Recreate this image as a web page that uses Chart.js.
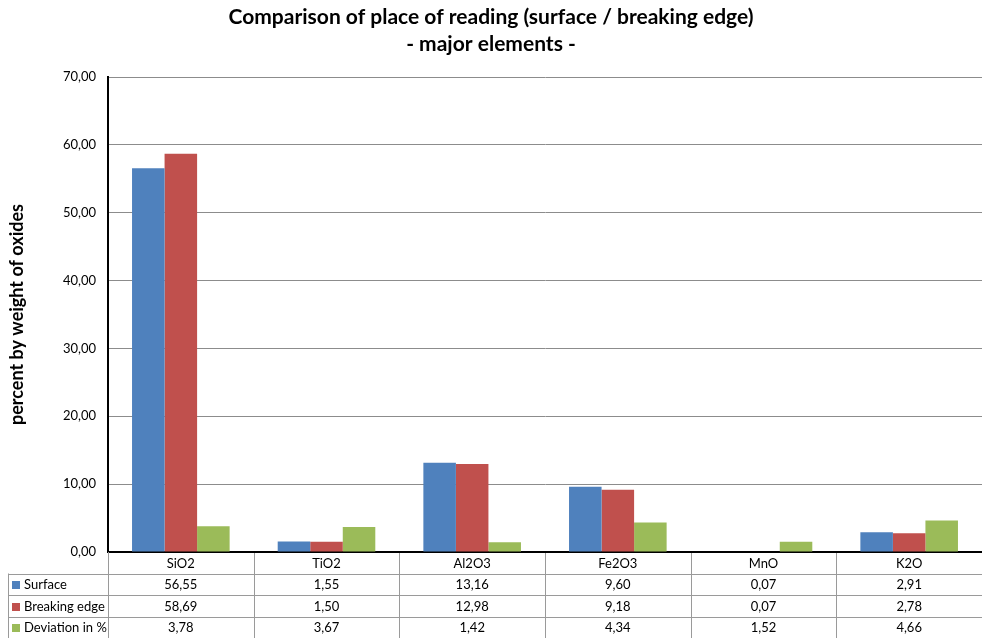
<!DOCTYPE html>
<html>
<head>
<meta charset="utf-8">
<script src="https://cdn.jsdelivr.net/npm/chart.js@4/dist/chart.umd.min.js"></script>
<style>
  html, body { margin: 0; padding: 0; background: #fff; }
  #wrap { width: 982px; height: 638px; position: relative; }
</style>
</head>
<body>
<div id="wrap"><canvas id="c"></canvas></div>
<script>
// Oxides measured and the three series shown as bars and in the data table
const categories = ['SiO2', 'TiO2', 'Al2O3', 'Fe2O3', 'MnO', 'K2O'];
const surface = [56.55, 1.55, 13.16, 9.60, 0.07, 2.91];
const breakingEdge = [58.69, 1.50, 12.98, 9.18, 0.07, 2.78];
const deviation = [3.78, 3.67, 1.42, 4.34, 1.52, 4.66];
const seriesNames = ['Surface', 'Breaking edge', 'Deviation in %'];
const seriesColors = ['#4F81BD', '#C0504D', '#9BBB59'];
const yMin = 0, yMax = 70, yStep = 10;

const FONT = 'Lato, "Open Sans", "Liberation Sans", sans-serif';
const fmt = v => Number(v).toFixed(2).replace('.', ',');

// Data table drawn under the plot: one header row of oxide names and one row per series
const dataTablePlugin = {
  id: 'dataTable',
  afterDraw(chart) {
    const ctx = chart.ctx;
    const xs = chart.scales.x;
    const area = chart.chartArea;
    const rowH = 21.5;
    const top = area.bottom;
    const legendLeft = 8;
    const n = categories.length;
    const half = (xs.getPixelForValue(1) - xs.getPixelForValue(0)) / 2;
    const edges = [];
    for (let i = 0; i < n; i++) edges.push(xs.getPixelForValue(i) - half);
    edges.push(xs.getPixelForValue(n - 1) + half);
    const rows = [surface, breakingEdge, deviation];
    const bottom = top + rowH * (rows.length + 1);

    ctx.save();
    ctx.strokeStyle = '#9a9a9a';
    ctx.lineWidth = 1;
    // vertical cell separators
    edges.forEach((x, i) => {
      const xx = Math.round(x) + 0.5;
      ctx.beginPath();
      ctx.moveTo(xx, top + (i === 0 ? 0 : 1));
      ctx.lineTo(xx, bottom);
      ctx.stroke();
    });
    // left edge of the legend column
    ctx.beginPath();
    ctx.moveTo(legendLeft + 0.5, top + rowH);
    ctx.lineTo(legendLeft + 0.5, bottom);
    ctx.stroke();
    // horizontal row lines
    for (let r = 1; r <= rows.length; r++) {
      const y = Math.round(top + rowH * r) + 0.5;
      ctx.beginPath();
      ctx.moveTo(legendLeft, y);
      ctx.lineTo(edges[edges.length - 1], y);
      ctx.stroke();
    }

    ctx.fillStyle = '#000';
    ctx.font = '13px ' + FONT;
    ctx.textAlign = 'center';
    ctx.textBaseline = 'middle';
    categories.forEach((c, i) => {
      ctx.fillText(c, xs.getPixelForValue(i), top + rowH * 0.5 + 1);
    });
    rows.forEach((vals, r) => {
      const cy = top + rowH * (r + 1.5) + 1;
      vals.forEach((v, i) => {
        ctx.fillText(fmt(v), xs.getPixelForValue(i), cy);
      });
    });
    // legend keys
    ctx.textAlign = 'left';
    seriesNames.forEach((name, r) => {
      const cy = top + rowH * (r + 1.5) + 1;
      ctx.fillStyle = seriesColors[r];
      ctx.fillRect(12, Math.round(cy - 4), 8, 8);
      ctx.fillStyle = '#000';
      ctx.fillText(name, 24, cy);
    });
    ctx.restore();
  }
};

new Chart(document.getElementById('c'), {
  type: 'bar',
  data: {
    labels: categories,
    datasets: [
      { label: seriesNames[0], data: surface, backgroundColor: seriesColors[0] },
      { label: seriesNames[1], data: breakingEdge, backgroundColor: seriesColors[1] },
      { label: seriesNames[2], data: deviation, backgroundColor: seriesColors[2] }
    ]
  },
  options: {
    responsive: true,
    maintainAspectRatio: false,
    animation: false,
    layout: { padding: { top: 0, right: 0, bottom: 86, left: 0 } },
    datasets: { bar: { categoryPercentage: 0.67, barPercentage: 1.0 } },
    plugins: {
      legend: { display: false },
      tooltip: { enabled: false },
      title: {
        display: true,
        text: ['Comparison of place of reading (surface / breaking edge)', '- major elements -'],
        color: '#000',
        font: { family: FONT, size: 21, weight: 'bold', lineHeight: 1.286 },
        padding: { top: 4, bottom: 19 }
      }
    },
    scales: {
      x: {
        ticks: { display: false },
        grid: { display: false, drawTicks: false },
        border: { display: true, color: '#000', width: 2 }
      },
      y: {
        min: yMin,
        max: yMax,
        afterFit(scale) { scale.width = 108; },
        ticks: {
          stepSize: yStep,
          color: '#000',
          padding: 12,
          font: { family: FONT, size: 13 },
          callback: v => fmt(v)
        },
        grid: { color: '#8c8c8c', lineWidth: 1, drawTicks: false },
        border: { display: true, color: '#000', width: 2 },
        title: {
          display: true,
          text: 'percent by weight of oxides',
          color: '#000',
          font: { family: FONT, size: 18, weight: 'bold' },
          padding: { top: 6, bottom: 0 }
        }
      }
    }
  },
  plugins: [dataTablePlugin]
});
</script>
</body>
</html>
